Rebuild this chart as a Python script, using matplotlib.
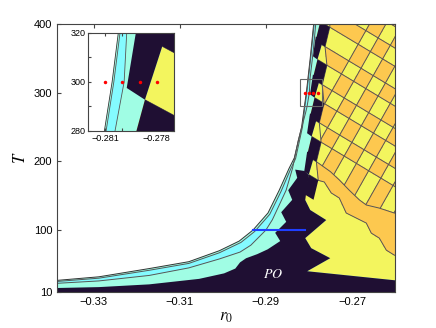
import numpy as np
import matplotlib.pyplot as plt
from matplotlib.patches import Polygon, Rectangle
from matplotlib.path import Path

plt.rcParams['font.family'] = ['Liberation Sans', 'DejaVu Sans']
plt.rcParams['mathtext.fontset'] = 'stix'

NAVY = '#1f0f33'
AQUA = '#a0fde4'
CYAN = '#84fbff'
YELLOW = '#f3f55e'
ORANGE = '#fdc84f'
EDGE = '#555555'

# band edges, (r0, T) from the left edge up to the top
c0_r = [-0.3400, -0.3288, -0.3171, -0.3079, -0.3008, -0.2962, -0.2930, -0.2895, -0.2869, -0.2846, -0.2834, -0.2817, -0.28105, -0.2806, -0.28024, -0.2797, -0.2789, -0.2788]
c0_T = [26, 32, 44, 54, 70, 84, 100, 125, 158, 190, 205, 250, 280, 300, 320, 350, 400, 415]
c1_r = [-0.3400, -0.3288, -0.3171, -0.3079, -0.3008, -0.2958, -0.2926, -0.2891, -0.2865, -0.2843, -0.2831, -0.2815, -0.28095, -0.2805, -0.28014, -0.2796, -0.2788, -0.2787]
c1_T = [24.5, 30, 41.5, 51.5, 67, 82, 98, 123, 156, 188, 204, 250, 280, 300, 320, 350, 400, 415]
c2_r = [-0.3400, -0.3288, -0.3171, -0.3079, -0.3008, -0.2960, -0.2935, -0.2900, -0.2885, -0.2870, -0.2853, -0.2838, -0.2825, -0.2808, -0.28043, -0.2799, -0.27975, -0.2790, -0.2782]
c2_T = [22, 26, 34, 45, 58, 68, 78, 100, 115, 135, 158, 190, 230, 270, 280, 300, 320, 360, 415]

# lower navy band (PO), outline
po_r = [-0.3400, -0.3400, -0.3288, -0.3171, -0.3055, -0.2997, -0.2971, -0.2960, -0.2946, -0.2920, -0.28958,
        -0.28667, -0.28784, -0.28528, -0.28644, -0.28388, -0.28481, -0.28272, -0.28319, -0.2810, -0.2800,
        -0.2805, -0.28086, -0.27970, -0.27598, -0.28086, -0.27947, -0.27505, -0.28040, -0.26016, -0.2550, -0.2550]
po_T = [0, 15.5, 17, 21, 29, 37, 44, 53, 59, 65, 72,
        84, 96, 112, 126, 144, 158, 176, 188, 186, 180,
        160, 143.8, 129.2, 114.6, 88.3, 73.7, 59.1, 40.1, 27, 26, 0]

# left edge of the yellow / orange area, from the bottom right up to the top
ye_r = [-0.2550, -0.26016, -0.28040, -0.27505, -0.27947, -0.28086, -0.27598, -0.27970, -0.28086, -0.28113,
        -0.28003, -0.27876, -0.28047, -0.27937, -0.27810, -0.27979, -0.27869, -0.27742, -0.27912, -0.27802,
        -0.27675, -0.27846, -0.27736, -0.2770]
ye_T = [26, 27, 40.1, 59.1, 73.7, 88.3, 114.6, 129.2, 143.8, 152.4,
        180.7, 208.1, 207.9, 236.2, 263.6, 264.4, 292.7, 320.1, 319.9, 348.2,
        375.6, 375.3, 403.6, 415]

# navy cells along the band
cells = [
    [(-0.27842, 408.4), (-0.27736, 403.6), (-0.27609, 431.0), (-0.27774, 437.0)],
    [(-0.27736, 403.6), (-0.27516, 395.3), (-0.27626, 367.0), (-0.27846, 375.3)],
    [(-0.27908, 353.0), (-0.27802, 348.2), (-0.27675, 375.6), (-0.27840, 381.8)],
    [(-0.27802, 348.2), (-0.27582, 339.9), (-0.27692, 311.6), (-0.27912, 319.9)],
    [(-0.27975, 297.5), (-0.27869, 292.7), (-0.27742, 320.1), (-0.27907, 326.3)],
    [(-0.27869, 292.7), (-0.27649, 284.4), (-0.27759, 256.1), (-0.27979, 264.4)],
    [(-0.28043, 241.0), (-0.27937, 236.2), (-0.27810, 263.6), (-0.27975, 269.8)],
    [(-0.27937, 236.2), (-0.27717, 227.9), (-0.27827, 199.6), (-0.28047, 207.9)],
    [(-0.28109, 185.5), (-0.28003, 180.7), (-0.27876, 208.1), (-0.28041, 214.3)],
    [(-0.28003, 180.7), (-0.27783, 172.4), (-0.27893, 144.1), (-0.28113, 152.4)],
]

# cell edges falling to the right (T against r0)
up_r = [-0.2830, -0.28047, -0.27827, -0.2750, -0.27295, -0.27063, -0.2683, -0.26667, -0.26365, -0.26016, -0.2550]
up_T = [217.4, 207.9, 199.6, 185, 173, 158, 144, 136.5, 132, 124.8, 122]
lo_r = [-0.2830, -0.28003, -0.27783, -0.27644, -0.27481, -0.27295, -0.27133, -0.26900, -0.26667, -0.26551, -0.26365, -0.26202, -0.26016, -0.2550]
lo_T = [191.9, 180.7, 172.4, 170, 154, 146.7, 124.8, 117.5, 110.2, 95.6, 88.3, 70.8, 63.5, 62]
a_lines = [
    ([-0.2830, -0.2550], [482.8, 377.4]),
    ([-0.2830, -0.2550], [451.5, 346.0]),
    ([-0.2830, -0.2550], [424.8, 319.4]),
    ([-0.2830, -0.2550], [392.4, 286.9]),
    ([-0.2830, -0.2550], [367.0, 261.5]),
    ([-0.2830, -0.2550], [334.5, 229.1]),
    ([-0.2830, -0.2550], [308.9, 203.5]),
    ([-0.2830, -0.2550], [276.5, 171.0]),
    ([-0.2830, -0.2550], [249.9, 144.4]),
    (up_r, up_T),
    (lo_r, lo_T),
]
# cell edges rising to the right (r0 against T)
b2_r = [-0.27783, -0.27827, -0.27717, -0.27759, -0.27649, -0.27692, -0.27582, -0.27626, -0.27516, -0.2750]
b2_T = [172.4, 199.6, 227.9, 256.1, 284.4, 311.6, 339.9, 367.0, 395.3, 415]
b_lines = [
    ([-0.3019, -0.2650], [0, 410]),
    ([-0.2981, -0.2612], [0, 410]),
    ([-0.2943, -0.2574], [0, 410]),
    ([-0.2905, -0.2536], [0, 410]),
    ([-0.2867, -0.2498], [0, 410]),
    ([-0.2829, -0.2460], [0, 410]),
    ([-0.2791, -0.2422], [0, 410]),
    ([-0.2753, -0.2384], [0, 410]),
    ([-0.2715, -0.2346], [0, 410]),
]

dots_r = [-0.281, -0.280, -0.279, -0.278]
dots_T = [300, 300, 300, 300]
blue_r = [-0.293, -0.281]
blue_T = [100, 100]


def right_of(r, T):
    return np.column_stack([list(r) + [-0.20, -0.20, -0.40], list(T) + [450, 0, 0]])


yel_pts = np.column_stack([ye_r + [-0.20, -0.20], ye_T + [450, 26]])
grid_pts = np.column_stack([b2_r[1:] + [-0.20, -0.20] + up_r[3:][::-1],
                            b2_T[1:] + [415, 122] + up_T[3:][::-1]])


def parity(rr, TT):
    na = np.zeros(rr.shape, int)
    for lr, lT in a_lines:
        na += TT > np.interp(rr, lr, lT, left=np.inf, right=-np.inf)
    nb = np.zeros(rr.shape, int)
    for lr, lT in b_lines:
        nb += rr > np.interp(TT, lT, lr)
    inside = Path(grid_pts).contains_points(np.column_stack([rr.ravel(), TT.ravel()])).reshape(rr.shape)
    par = np.where(inside, (na + nb) % 2, na % 2)
    # strip next to the band: yellow, its other cells are navy
    col1 = (rr < np.interp(TT, b2_T, b2_r)) & (TT > np.interp(rr, lo_r, lo_T))
    par[col1] = 0
    return par


def draw(ax, xlim, ylim, lw):
    ax.set_xlim(xlim)
    ax.set_ylim(ylim)
    for r, T, col in [(c0_r, c0_T, AQUA), (c1_r, c1_T, CYAN), (c2_r, c2_T, AQUA)]:
        ax.add_patch(Polygon(right_of(r, T), closed=True, fc=col, ec='none', zorder=1))
    yel = Polygon(yel_pts, closed=True, fc=YELLOW, ec='none', zorder=2)
    ax.add_patch(yel)
    grid_patch = Polygon(grid_pts, closed=True, fc='none', ec='none')
    ax.add_patch(grid_patch)
    rr, TT = np.meshgrid(np.linspace(xlim[0], xlim[1], 800), np.linspace(ylim[0], ylim[1], 800))
    cs = ax.contourf(rr, TT, parity(rr, TT), levels=[0.5, 1.5], colors=[ORANGE], zorder=2.1)
    cs.set_clip_path(yel)
    for lr, lT in a_lines + [(b2_r, b2_T)]:
        ln, = ax.plot(lr, lT, color=EDGE, lw=lw, zorder=2.2)
        ln.set_clip_path(yel)
    for lr, lT in b_lines:
        ln, = ax.plot(lr, lT, color=EDGE, lw=lw, zorder=2.2)
        ln.set_clip_path(grid_patch)
    ax.add_patch(Polygon(np.column_stack([po_r, po_T]), closed=True, fc=NAVY, ec='none', zorder=3))
    for c in cells:
        ax.add_patch(Polygon(c, closed=True, fc=NAVY, ec='none', zorder=3))
    ax.plot(c0_r, c0_T, color='#333333', lw=lw, zorder=3.5)
    ax.plot(c1_r, c1_T, color='#555555', lw=lw, zorder=3.5)
    ax.plot(c2_r, c2_T, color='#555555', lw=lw, zorder=3.5)
    ax.plot(dots_r, dots_T, 'o', color='red', ms=2.5, mec='none', zorder=5)
    for s in ax.spines.values():
        s.set_color('#444444')
        s.set_linewidth(0.8)
        s.set_zorder(6)


fig = plt.figure(figsize=(4.36, 3.28), dpi=100)
ax = fig.add_axes([0.131, 0.110, 0.775, 0.817])
draw(ax, (-0.3385, -0.2600), (10, 400), 0.7)
ax.plot(blue_r, blue_T, color='#1f3fff', lw=1.5, zorder=5)
ax.add_patch(Rectangle((-0.282, 280), 0.005, 40, fill=False, ec='#666666', lw=0.8, zorder=5))
ax.text(-0.2884, 36, '$PO$', color='white', fontsize=10, ha='center', va='center', zorder=5)
ax.set_xticks([-0.33, -0.31, -0.29, -0.27])
ax.set_yticks([10, 100, 200, 300, 400])
ax.tick_params(direction='in', top=True, right=True, labelsize=8, length=3, color='#444444')
ax.set_xlabel('$r_0$', fontsize=12, labelpad=2)
ax.set_ylabel('$T$', fontsize=12, labelpad=4)

ins = fig.add_axes([0.202, 0.601, 0.197, 0.299])
ins.set_zorder(10)
draw(ins, (-0.282, -0.277), (280, 320), 0.6)
ins.set_xticks([-0.281, -0.280, -0.279, -0.278])
ins.set_xticklabels(['\u22120.281', '', '', '\u22120.278'])
ins.set_yticks([280, 290, 300, 310, 320])
ins.set_yticklabels(['280', '', '300', '', '320'])
ins.tick_params(direction='in', top=True, right=True, labelsize=6.5, length=2, pad=2, color='#444444')

fig.savefig('out.png', dpi=100)
